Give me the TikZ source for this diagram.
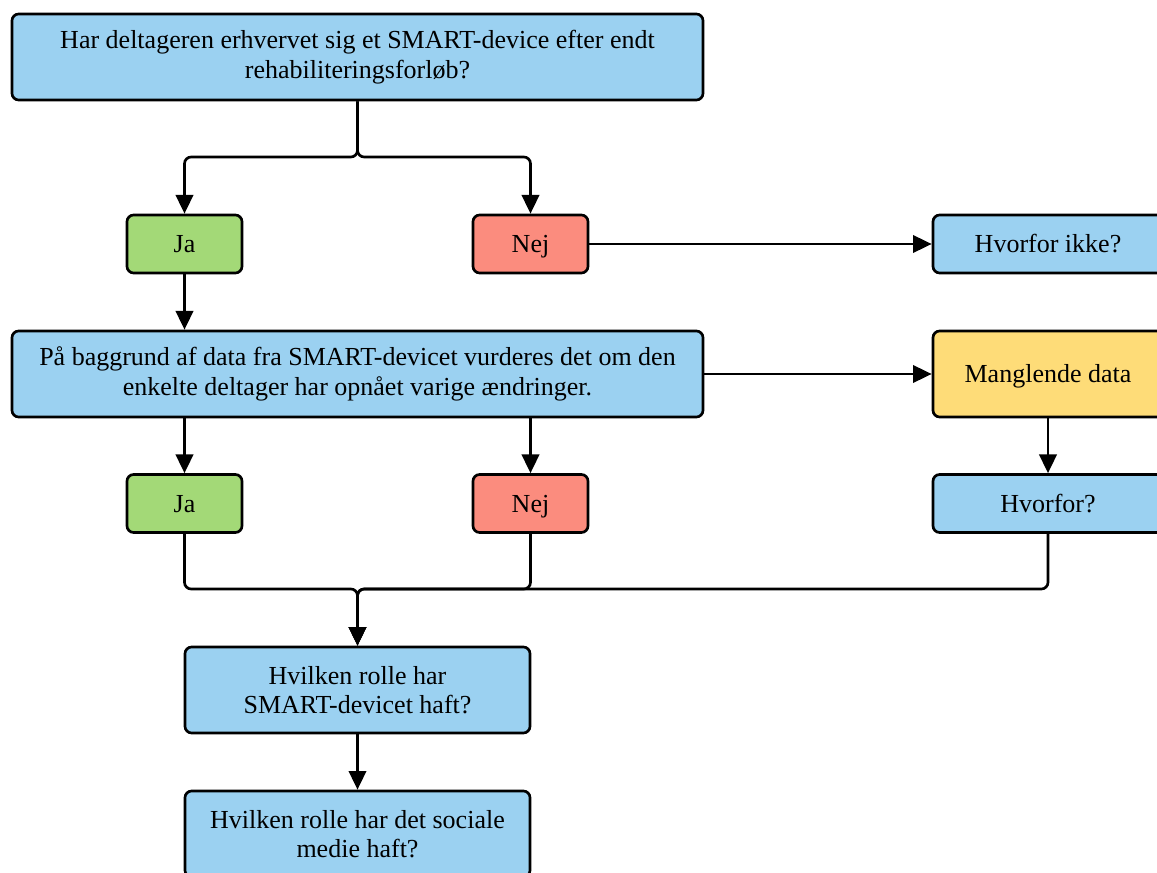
\documentclass[tikz,border=0pt]{standalone}
\usepackage{fontspec}
\setmainfont{Liberation Serif}
\usetikzlibrary{arrows.meta}
\definecolor{cblue}{HTML}{9BD1F1}
\definecolor{cgreen}{HTML}{A3D977}
\definecolor{cred}{HTML}{FB8C7E}
\definecolor{cyellow}{HTML}{FEDC78}
\tikzset{
  box/.style={draw=black, line width=2pt, rounded corners=5pt, align=center,
    font=\fontsize{19.5}{22}\selectfont, inner sep=0pt},
  oneline/.style={text height=15pt, text depth=2.2pt},
  wide/.style={box, fill=cblue, minimum width=518.25pt, minimum height=64.5pt},
  small/.style={box, oneline, minimum width=86.25pt, minimum height=43.5pt},
  side/.style={box, oneline, minimum width=172.5pt, minimum height=43.5pt},
  mid/.style={box, fill=cblue, minimum width=258.75pt, minimum height=64.5pt},
  conn/.style={line width=2pt, rounded corners=5pt},
  arr/.style={conn, -{Triangle[length=14pt,width=13pt]}}
}
\begin{document}
\begin{tikzpicture}[x=0.75pt,y=-0.75pt]
\useasboundingbox (0,0) rectangle (1157,873);
\clip (0,0) rectangle (1157,873);
\fill[white] (0,0) rectangle (1157,873);
\node[wide] (q1) at (357.5,57) {Har deltageren erhvervet sig et SMART-device efter endt\\rehabiliteringsforløb?};
\node[small, fill=cgreen] (ja1) at (184.5,244) {Ja};
\node[small, fill=cred] (nej1) at (530.5,244) {Nej};
\node[side, fill=cblue] (hvi) at (1048,244) {Hvorfor ikke?};
\node[wide] (q2) at (357.5,374) {På baggrund af data fra SMART-devicet vurderes det om den\\enkelte deltager har opnået varige ændringer.};
\node[side, fill=cyellow, minimum height=64.5pt] (mang) at (1048,374) {Manglende data};
\node[small, fill=cgreen] (ja2) at (184.5,503.5) {Ja};
\node[small, fill=cred] (nej2) at (530.5,503.5) {Nej};
\node[side, fill=cblue] (hv) at (1048,503.5) {Hvorfor?};
\node[mid] (q3) at (357.5,690) {Hvilken rolle har\\SMART-devicet haft?};
\node[mid] (q4) at (357.5,834) {Hvilken rolle har det sociale\\medie haft?};
\coordinate (s1) at (357.5,157);
\coordinate (m1) at (357.5,589);
\draw[arr] (q1.south) -- (s1) -| (ja1.north);
\draw[arr] (q1.south) -- (s1) -| (nej1.north);
\draw[arr] (nej1.east) -- (hvi.west);
\draw[arr] (ja1.south) -- (q2.north -| ja1.south);
\draw[arr] (q2.east) -- (mang.west);
\draw[arr] (q2.south -| ja2.north) -- (ja2.north);
\draw[arr] (q2.south -| nej2.north) -- (nej2.north);
\draw[arr] (mang.south) -- (hv.north);
\draw[arr] (ja2.south) |- (m1) -- (q3.north);
\draw[arr] (nej2.south) |- (m1) -- (q3.north);
\draw[arr] (hv.south) |- (m1) -- (q3.north);
\draw[arr] (q3.south) -- (q4.north);
\end{tikzpicture}
\end{document}
